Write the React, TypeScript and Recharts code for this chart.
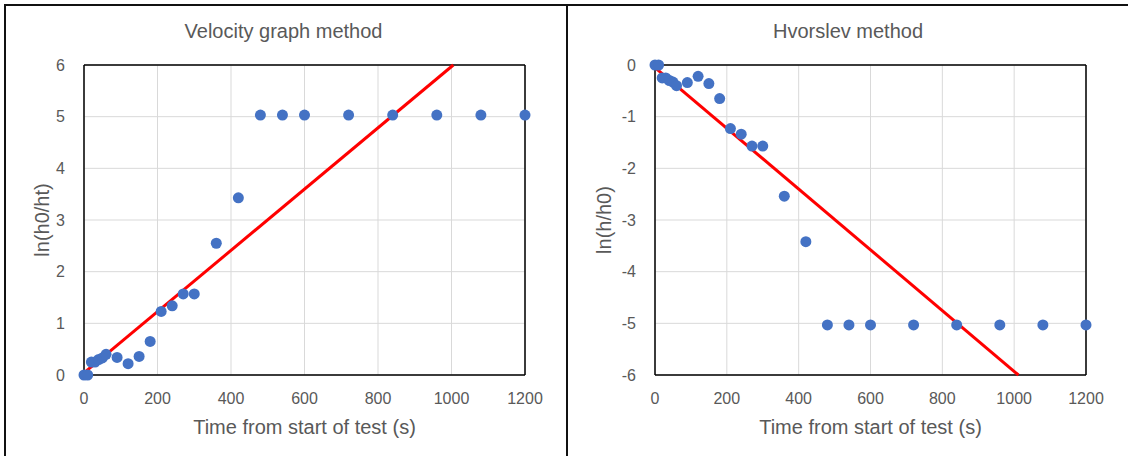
import React from "react";
import {
  ScatterChart,
  Scatter,
  XAxis,
  YAxis,
  CartesianGrid,
  ReferenceLine,
} from "recharts";

// ---- data ----
const times = [0, 10, 20, 30, 40, 50, 60, 90, 120, 150, 180, 210, 240, 270, 300, 360, 420, 480, 540, 600, 720, 840, 960, 1080, 1200];
const velocityValues = [0, 0, 0.25, 0.25, 0.3, 0.33, 0.4, 0.34, 0.22, 0.36, 0.65, 1.23, 1.34, 1.57, 1.57, 2.55, 3.43, 5.03, 5.03, 5.03, 5.03, 5.03, 5.03, 5.03, 5.03];
const hvorslevValues = [0, 0, -0.25, -0.25, -0.3, -0.33, -0.4, -0.34, -0.22, -0.36, -0.65, -1.23, -1.34, -1.57, -1.57, -2.54, -3.42, -5.03, -5.03, -5.03, -5.03, -5.03, -5.03, -5.03, -5.03];

const velocityFitTimes = [0, 1005];
const velocityFitValues = [0.04, 6];
const hvorslevFitTimes = [0, 1012];
const hvorslevFitValues = [-0.05, -6];

const xTicks = [0, 200, 400, 600, 800, 1000, 1200];
const velocityYTicks = [0, 1, 2, 3, 4, 5, 6];
const hvorslevYTicks = [0, -1, -2, -3, -4, -5, -6];

const velocityTitle = "Velocity graph method";
const hvorslevTitle = "Hvorslev method";
const xAxisTitle = "Time from start of test (s)";
const velocityYTitle = "ln(h0/ht)";
const hvorslevYTitle = "ln(h/h0)";

// ---- helpers ----
const zip = (xs: number[], ys: number[]) => xs.map((t, i) => ({ t, v: ys[i] }));

const FONT = "'Liberation Sans', Arial, sans-serif";
const TEXT = "#595959";
const FRAME = "#000000";

const Dot = (props: any) => {
  const { cx, cy } = props;
  if (cx == null || cy == null) return <g />;
  return <circle cx={cx} cy={cy} r={5.5} fill="#4472C4" />;
};
const NoDot = () => <g />;

type PanelProps = {
  left: number;
  width: number;
  marginLeft: number;
  marginRight: number;
  title: string;
  yTitle: string;
  yTitleX: number;
  points: { t: number; v: number }[];
  fit: { t: number; v: number }[];
  yDomain: [number, number];
  yTicks: number[];
};

const Panel = (p: PanelProps) => {
  const plotLeft = p.marginLeft + 40;
  const plotRight = p.width - p.marginRight;
  const plotCenter = (plotLeft + plotRight) / 2;
  const yTop = Math.max(p.yDomain[0], p.yDomain[1]);
  return (
    <div style={{ position: "absolute", left: p.left, top: 0, width: p.width, height: 456 }}>
      <div
        style={{
          position: "absolute",
          left: 0,
          width: p.width,
          top: 19,
          textAlign: "center",
          fontSize: 20,
          lineHeight: "24px",
          color: TEXT,
          fontFamily: FONT,
        }}
      >
        {p.title}
      </div>
      <ScatterChart
        width={p.width}
        height={456}
        margin={{ top: 65, right: p.marginRight, bottom: 51, left: p.marginLeft }}
        style={{ fontFamily: FONT }}
      >
        <CartesianGrid stroke="#d9d9d9" strokeWidth={1} />
        <XAxis
          type="number"
          dataKey="t"
          domain={[0, 1200]}
          ticks={xTicks}
          tickLine={false}
          axisLine={{ stroke: FRAME, strokeWidth: 1.5 }}
          tickSize={6}
          tickMargin={12}
          height={30}
          tick={{ fill: TEXT, fontSize: 16, fontFamily: FONT }}
          interval={0}
        />
        <YAxis
          type="number"
          dataKey="v"
          domain={p.yDomain}
          ticks={p.yTicks}
          tickLine={false}
          axisLine={{ stroke: FRAME, strokeWidth: 1.5 }}
          tickSize={6}
          tickMargin={13}
          width={40}
          tick={{ fill: TEXT, fontSize: 16, fontFamily: FONT }}
          interval={0}
        />
        <ReferenceLine y={yTop} stroke={FRAME} strokeWidth={1.5} />
        <ReferenceLine x={1200} stroke={FRAME} strokeWidth={1.5} />
        <Scatter
          data={p.fit}
          shape={NoDot}
          line={{ stroke: "#FF0000", strokeWidth: 3 }}
          lineType="joint"
          isAnimationActive={false}
        />
        <Scatter data={p.points} shape={Dot} isAnimationActive={false} />
      </ScatterChart>
      <div
        style={{
          position: "absolute",
          left: plotCenter - 200,
          width: 400,
          top: 415,
          textAlign: "center",
          fontSize: 20,
          lineHeight: "24px",
          color: TEXT,
          fontFamily: FONT,
        }}
      >
        {xAxisTitle}
      </div>
      <div
        style={{
          position: "absolute",
          left: p.yTitleX - 100,
          top: 220 - 12,
          width: 200,
          height: 24,
          textAlign: "center",
          fontSize: 20,
          lineHeight: "24px",
          color: TEXT,
          fontFamily: FONT,
          transform: "rotate(-90deg)",
        }}
      >
        {p.yTitle}
      </div>
    </div>
  );
};

export default function App() {
  return (
    <div
      style={{
        position: "fixed",
        left: 0,
        top: 0,
        width: 1128,
        height: 456,
        overflow: "hidden",
        background: "#ffffff",
      }}
    >
      <Panel
        left={0}
        width={567}
        marginLeft={44}
        marginRight={42}
        title={velocityTitle}
        yTitle={velocityYTitle}
        yTitleX={42}
        points={zip(times, velocityValues)}
        fit={zip(velocityFitTimes, velocityFitValues)}
        yDomain={[0, 6]}
        yTicks={velocityYTicks}
      />
      <Panel
        left={568}
        width={560}
        marginLeft={47}
        marginRight={42}
        title={hvorslevTitle}
        yTitle={hvorslevYTitle}
        yTitleX={36}
        points={zip(times, hvorslevValues)}
        fit={zip(hvorslevFitTimes, hvorslevFitValues)}
        yDomain={[-6, 0]}
        yTicks={hvorslevYTicks}
      />
      {/* frame lines */}
      <div style={{ position: "absolute", zIndex: 10, left: 4, top: 4, width: 1124, height: 2, background: "#111" }} />
      <div style={{ position: "absolute", zIndex: 10, left: 4, top: 4, width: 2, height: 452, background: "#111" }} />
      <div style={{ position: "absolute", zIndex: 10, left: 566, top: 4, width: 2, height: 452, background: "#111" }} />
    </div>
  );
}
